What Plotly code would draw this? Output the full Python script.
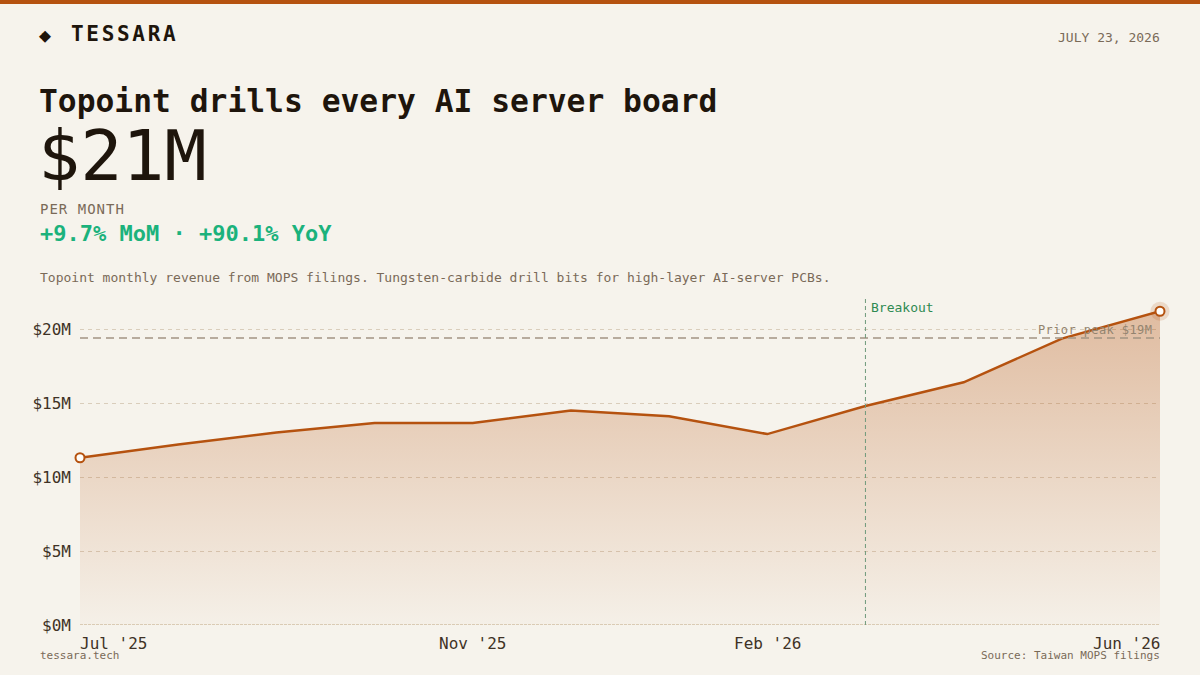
import plotly.graph_objects as go

# ---- data ----
months = ["Jul '25", "Aug '25", "Sep '25", "Oct '25", "Nov '25", "Dec '25",
          "Jan '26", "Feb '26", "Mar '26", "Apr '26", "May '26", "Jun '26"]
revenue = [11.3, 12.2, 13.0, 13.65, 13.65, 14.5, 14.1, 12.9, 14.8, 16.4, 19.35, 21.2]
y_ticks = [0, 5, 10, 15, 20]
y_tick_labels = ["$0M", "$5M", "$10M", "$15M", "$20M"]
x_label_months = ["Jul '25", "Nov '25", "Feb '26", "Jun '26"]
prior_peak = 19.4
prior_peak_label = "Prior peak $19M"
breakout_month = "Mar '26"

# ---- style ----
W, H = 1200, 675
L, R, T, B = 80, 40, 296, 50
PW, PH = W - L - R, H - T - B
BG = "#f6f3ec"
ORANGE = "#b5520f"
DARK = "#1e150c"
MUTED = "#7a6a58"
AXIS_TXT = "#3f3226"
GREEN = "#1bb27c"
FONT = "DejaVu Sans Mono"


def px(x):
    return (x - L) / PW


def py(y):
    return (H - B - y) / PH


def ls(text, sp):
    return f'<span style="letter-spacing:{sp}px">{text}</span>'


fig = go.Figure()

fig.add_trace(go.Scatter(
    x=months, y=revenue, mode="lines",
    line=dict(color=ORANGE, width=2.5),
    fill="tozeroy",
    fillgradient=dict(type="vertical",
                      colorscale=[[0, "rgba(181,82,15,0.02)"], [1, "rgba(181,82,15,0.34)"]]),
    hoverinfo="skip", showlegend=False,
))
# halo on last point
fig.add_trace(go.Scatter(
    x=[months[-1]], y=[revenue[-1]], mode="markers",
    marker=dict(size=19, color="rgba(181,82,15,0.16)", line=dict(width=0)),
    hoverinfo="skip", showlegend=False, cliponaxis=False,
))
fig.add_trace(go.Scatter(
    x=[months[0], months[-1]], y=[revenue[0], revenue[-1]], mode="markers",
    marker=dict(size=9, color="#fffdf9", line=dict(color=ORANGE, width=2)),
    hoverinfo="skip", showlegend=False, cliponaxis=False,
))

bi = months.index(breakout_month)
shapes = [
    # top bar
    dict(type="rect", xref="paper", yref="paper", x0=px(0), x1=px(W), y0=py(4), y1=py(0),
         fillcolor=ORANGE, line=dict(width=0), layer="above"),
    # zero line
    dict(type="line", xref="paper", yref="y", x0=0, x1=1, y0=0, y1=0,
         line=dict(color="#dacbb4", width=2, dash="3px,1px"), layer="above"),
    # prior peak
    dict(type="line", xref="paper", yref="y", x0=0, x1=1, y0=prior_peak, y1=prior_peak,
         line=dict(color="#a39482", width=1.5, dash="8px,5px"), layer="above"),
    # breakout
    dict(type="line", xref="x", yref="paper", x0=bi, x1=bi, y0=0, y1=1,
         line=dict(color="#6f9a7c", width=1, dash="4px,3px"), layer="above"),
]

ann = []


def text(x, y, s, size, color, xanchor="left", bold=False, xshift=0):
    if bold:
        s = f"<b>{s}</b>"
    ann.append(dict(xref="paper", yref="paper", x=px(x), y=py(y), text=s, showarrow=False,
                    xanchor=xanchor, yanchor="middle", xshift=xshift,
                    font=dict(family=FONT, size=size, color=color)))


text(37, 35, "◆", 20, DARK)
text(69, 34, ls("TESSARA", 2.7), 21, DARK, bold=True)
text(1160, 37, "JULY 23, 2026", 13, MUTED, xanchor="right", xshift=2)
text(37, 101, "Topoint drills every AI server board", 31.3, DARK, bold=True)
text(36, 156, "$21M", 70, DARK)
text(38, 209, ls("PER MONTH", 1), 14, MUTED)
text(38, 234, "+9.7% MoM · +90.1% YoY", 22, GREEN, bold=True)
text(38, 277, "Topoint monthly revenue from MOPS filings. Tungsten-carbide drill bits for high-layer AI-server PCBs.", 13, MUTED)
text(1160, 655, "Source: Taiwan MOPS filings", 11, MUTED, xanchor="right", xshift=2)
text(38, 655, "tessara.tech", 11, MUTED)

# breakout label
ann.append(dict(xref="x", yref="paper", x=bi, y=py(307), text="Breakout", showarrow=False,
                xanchor="left", yanchor="middle", xshift=4,
                font=dict(family=FONT, size=13, color="#2f8a52")))
# prior peak label
ann.append(dict(xref="paper", yref="y", x=1, y=prior_peak, text=ls(prior_peak_label, 0.4),
                showarrow=False, xanchor="right", yanchor="bottom", xshift=-6, yshift=-1,
                font=dict(family=FONT, size=12, color="#93846f")))

# x axis labels
anchors = ["left", "center", "center", "right"]
shifts = [-2, 0, 0, 2]
for m, a, s in zip(x_label_months, anchors, shifts):
    ann.append(dict(xref="x", yref="paper", x=months.index(m), y=0, text=m, showarrow=False,
                    xanchor=a, yanchor="top", yshift=-7, xshift=s,
                    font=dict(family=FONT, size=16, color=AXIS_TXT)))

fig.update_layout(
    width=W, height=H,
    margin=dict(l=L, r=R, t=T, b=B),
    paper_bgcolor=BG, plot_bgcolor=BG,
    shapes=shapes, annotations=ann,
    showlegend=False,
    xaxis=dict(type="category", range=[0, len(months) - 1], showgrid=False, zeroline=False,
               showline=False, showticklabels=False, fixedrange=True),
    yaxis=dict(range=[0, 22.23], tickvals=y_ticks, ticktext=y_tick_labels,
               showgrid=True, gridcolor="#d9cdbb", gridwidth=1, griddash="4px,4px",
               zeroline=False, showline=False, ticks="", ticklabelstandoff=8,
               tickfont=dict(family=FONT, size=16, color=AXIS_TXT), fixedrange=True),
)

fig.write_html("out.html")
